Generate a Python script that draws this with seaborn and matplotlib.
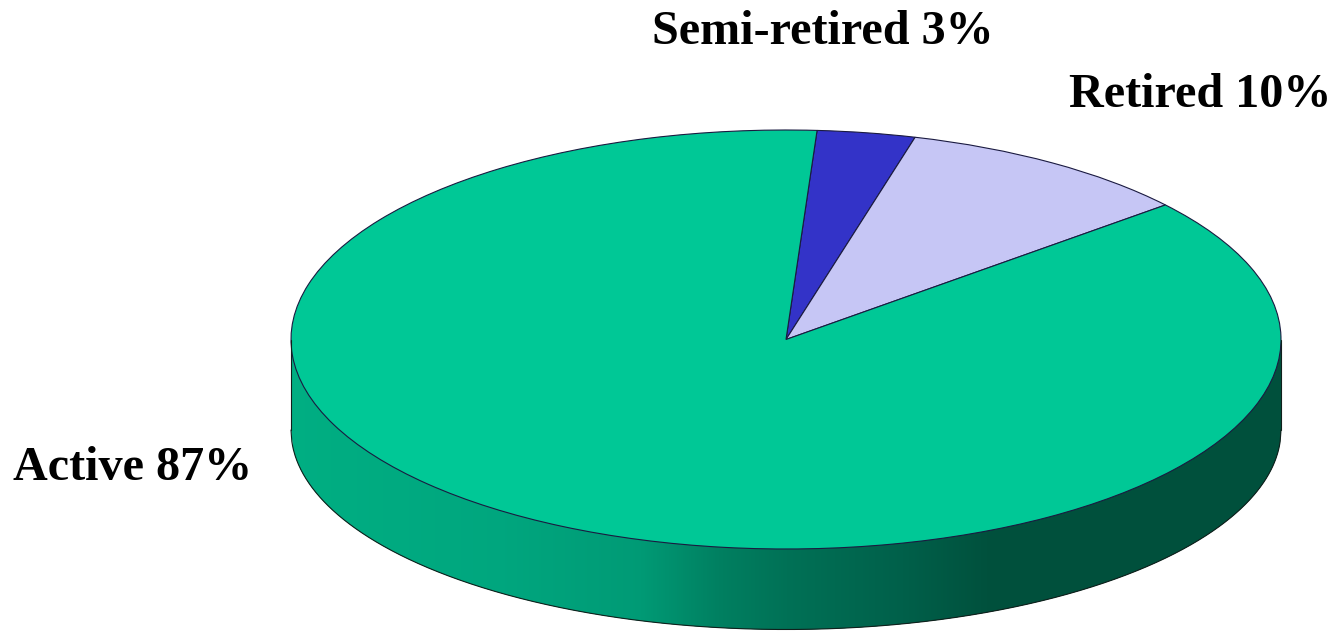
import numpy as np
import matplotlib
matplotlib.use("Agg")
import matplotlib.pyplot as plt
import seaborn as sns

# Data
categories = ["Active", "Semi-retired", "Retired"]
values = [87.1, 3.2, 9.7]  # slice sizes as drawn in the picture
tick_labels = ["Active 87%", "Semi-retired 3%", "Retired 10%"]
top_colors = ["#00C896", "#3333C8", "#C6C6F5"]

# Side-wall shading: pixel x -> colour
side_x_px = [291, 500, 640, 720, 790, 900, 990, 1281]
side_colors = ["#00AE82", "#00A67E", "#009A75", "#007F60", "#007055", "#00604A", "#00503C", "#00503C"]

W, H = 1334, 631
CX, CY, RX, RY = 786.0, 339.5, 495.0, 209.5
BOTTOM_CY, BOTTOM_RY = 430.0, 199.5

sns.set_theme(style="white")
plt.rcParams["font.family"] = ["Liberation Serif", "DejaVu Serif"]

fig = plt.figure(figsize=(W / 100, H / 100), dpi=100, facecolor="white")
ax = fig.add_axes([0, 0, 1, 1])

order = [1, 2, 0]
ax.pie([values[i] for i in order],
       colors=[top_colors[i] for i in order],
       startangle=86.4, counterclock=False, radius=1, center=(0, 0),
       wedgeprops=dict(edgecolor="#1a1a40", linewidth=0.8, zorder=5))

ux = lambda px: (np.asarray(px, float) - CX) / RX
uy = lambda py: (CY - np.asarray(py, float)) / RY
lower = lambda x: uy(BOTTOM_CY + BOTTOM_RY * np.sqrt(np.clip(1 - x ** 2, 0, 1)))

# side wall as overlapping shaded strips, painted left to right
rgb = np.array([matplotlib.colors.to_rgb(c) for c in side_colors])
edges_px = np.arange(291, 1281, 2)
for xp0 in edges_px:
    xs = ux(np.linspace(xp0, min(xp0 + 6, 1281), 4))
    y_top = -np.sqrt(np.clip(1 - xs ** 2, 0, 1)) + 0.004
    col = tuple(float(np.interp(xp0 + 1, side_x_px, rgb[:, k])) for k in range(3))
    ax.fill_between(xs, y_top, lower(xs), facecolor=col, edgecolor="none", linewidth=0, zorder=1)

# side wall outline
xs = np.linspace(-1, 1, 1200)
ax.plot(xs, lower(xs), color="#10201c", lw=0.8, zorder=6)
ax.plot([-1, -1], [0, lower(np.array(-1.0))], color="#10201c", lw=0.8, zorder=6)
ax.plot([1, 1], [0, lower(np.array(1.0))], color="#10201c", lw=0.8, zorder=6)

ax.set_aspect("auto")
ax.set_xlim(ux(0), ux(W))
ax.set_ylim(uy(H), uy(0))
ax.axis("off")

# labels (left x, baseline y in pixels)
label_pos = [(13, 480), (652, 44), (1069, 107)]
for txt, (px, py) in zip(tick_labels, label_pos):
    ax.text(ux(px), uy(py), txt, ha="left", va="baseline", fontsize=34.7,
            fontweight="bold", color="black", zorder=10)

fig.savefig("out.png", dpi=100, facecolor="white")
